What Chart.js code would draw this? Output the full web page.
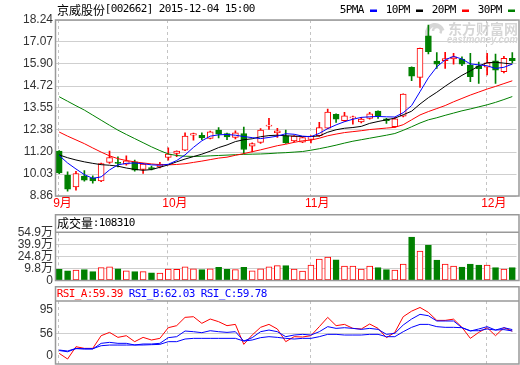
<!DOCTYPE html>
<html><head><meta charset="utf-8">
<script src="https://cdn.jsdelivr.net/npm/chart.js@4.4.0/dist/chart.umd.min.js"></script>
<style>
html,body{margin:0;padding:0;background:#fff;width:520px;height:365px;overflow:hidden;position:relative}
canvas{position:absolute;left:0}
</style></head><body>
<canvas id="main" width="520" height="214" style="top:0"></canvas>
<canvas id="vol" width="520" height="76" style="top:214px"></canvas>
<canvas id="rsi" width="520" height="92" style="top:286px"></canvas>
<script>
const stockTitle = '京威股份[002662] 2015-12-04 15:00';
const dates = ['2015-09-14','2015-09-15','2015-09-16','2015-09-17','2015-09-18','2015-09-21','2015-09-22','2015-09-23','2015-09-24','2015-09-25','2015-09-28','2015-09-29','2015-09-30',
'2015-10-08','2015-10-09','2015-10-12','2015-10-13','2015-10-14','2015-10-15','2015-10-16','2015-10-19','2015-10-20','2015-10-21','2015-10-22','2015-10-23','2015-10-26','2015-10-27','2015-10-28','2015-10-29','2015-10-30',
'2015-11-02','2015-11-03','2015-11-04','2015-11-05','2015-11-06','2015-11-09','2015-11-10','2015-11-11','2015-11-12','2015-11-13','2015-11-16','2015-11-17','2015-11-18','2015-11-19','2015-11-20','2015-11-23','2015-11-24','2015-11-25','2015-11-26','2015-11-27','2015-11-30',
'2015-12-01','2015-12-02','2015-12-03','2015-12-04'];
const open  = [11.25,9.97,9.34,9.92,9.83,9.67,10.65,10.66,10.56,10.68, 10.27,10.38,10.41,10.91,11.13,11.30,12.10,12.10,11.93,12.37, 12.19,11.98,12.19,11.52,11.71,12.58,12.23,12.07,11.80,11.73, 11.87,12.07,12.48,13.21,12.87,13.02,12.81,12.99,13.38,12.97, 12.55,13.12,15.72,15.18,17.39,16.05,16.07,16.16,16.16,15.84, 15.80,15.72,16.07,15.48,16.20];
const high  = [11.28,10.15,10.18,10.22,9.93,10.62,11.25,10.95,11.00,10.77, 10.60,10.45,10.66,11.43,11.27,12.23,12.21,12.23,12.32,12.51, 12.22,12.33,12.53,11.70,12.45,13.00,12.46,12.37,12.08,12.00, 12.08,12.78,13.49,13.24,13.32,13.12,13.05,13.32,13.40,13.00, 13.05,14.31,15.75,16.75,17.97,16.50,16.52,16.46,16.28,16.46, 16.00,16.46,16.42,16.30,16.50];
const low   = [10.05,9.12,9.17,9.65,9.55,9.62,10.59,10.41,10.50,10.18, 10.06,10.25,10.35,10.77,10.95,11.27,11.84,11.86,11.90,11.96, 11.86,11.90,11.12,11.21,11.66,12.41,11.98,11.66,11.74,11.70, 11.69,12.03,12.45,12.78,12.83,12.69,12.75,12.96,12.99,12.73, 12.52,13.08,15.00,14.65,16.43,15.66,15.66,15.89,15.80,14.95, 14.86,15.31,14.86,15.42,15.95];
const close = [10.09,9.22,10.06,9.70,9.67,10.59,10.91,10.60,10.73,10.24, 10.56,10.29,10.56,11.09,11.25,12.05,12.19,11.95,12.28,12.16, 12.01,12.23,11.34,11.66,12.37,12.62,12.33,11.69,12.05,11.98, 12.05,12.51,13.33,12.96,13.13,13.05,12.96,13.24,13.12,12.87, 12.97,14.29,15.25,16.73,16.55,15.89,16.18,16.28,15.89,15.22, 15.64,15.96,15.57,16.20,16.07];
const ma5  = [11.02,10.62,10.30,10.00,9.80,9.88,10.25,10.52,10.60,10.62, 10.58,10.52,10.50,10.55,10.75,11.05,11.45,11.80,12.05,12.12, 12.14,12.10,12.03,11.97,11.92,11.98,12.05,12.18,12.15,12.05, 12.02,12.20,12.45,12.65,12.82,12.95,13.05,13.08,13.10,13.08, 13.07,13.30,13.68,14.42,15.16,15.74,16.12,16.30,16.16,15.90, 15.85,15.80,15.66,15.72,15.89];
const ma10 = [11.05,10.90,10.78,10.68,10.60,10.53,10.50,10.45,10.35,10.28, 10.23,10.27,10.39,10.52,10.68,10.83,10.96,11.09,11.25,11.44, 11.58,11.76,11.86,11.91,12.02,12.08,12.10,12.07,12.05,12.03, 12.03,12.06,12.26,12.39,12.47,12.51,12.57,12.73,12.83,12.92, 13.01,13.19,13.38,13.76,14.10,14.39,14.71,15.01,15.29,15.53, 15.79,15.96,15.99,15.94,15.89];
const ma20 = [12.27,12.05,11.85,11.65,11.42,11.20,11.00,10.85,10.75,10.68, 10.62,10.57,10.53,10.52,10.54,10.58,10.65,10.72,10.80,10.88, 10.93,11.03,11.12,11.22,11.32,11.43,11.54,11.62,11.72,11.80, 11.84,11.94,12.07,12.16,12.24,12.29,12.34,12.40,12.44,12.48, 12.52,12.66,12.92,13.18,13.36,13.52,13.68,13.88,14.06,14.24, 14.40,14.56,14.70,14.85,15.00];
const ma30 = [14.15,13.91,13.67,13.44,13.17,12.90,12.63,12.37,12.14,11.92, 11.70,11.48,11.28,11.10,11.02,10.98,10.97,10.98,11.00,11.02, 11.04,11.06,11.08,11.09,11.10,11.12,11.15,11.17,11.20,11.23, 11.30,11.38,11.47,11.57,11.68,11.78,11.86,11.94,12.02,12.10, 12.19,12.36,12.55,12.75,12.92,13.03,13.16,13.28,13.40,13.50, 13.61,13.72,13.85,14.00,14.16];
const volume = [8.8,7.0,7.9,8.3,5.8,10.8,12.0,9.5,7.0,5.8, 5.8,4.5,4.1,9.1,8.8,12.0,9.5,8.3,9.5,11.3, 8.8,8.3,11.3,7.0,9.5,12.0,13.3,13.3,9.1,6.6, 14.1,21.6,24.1,20.7,12.9,12.9,9.1,12.9,10.8,8.3, 7.9,15.4,49.0,31.6,39.1,20.4,15.4,12.9,11.6,15.4, 14.1,14.1,10.8,9.1,10.83];
const lastVolume = 108310;
const rsiA = [23.4,14.2,34.2,31.5,31.5,52.1,57.5,49.4,52.1,42.4, 49.4,45.1,47.8,65.1,68.4,81.9,83.0,72.2,79.2,74.9, 68.4,70.5,38.0,53.2,65.7,70.5,63.0,42.4,50.5,50.0, 52.1,66.8,81.9,68.4,70.5,64.0,63.0,71.1,64.0,48.9, 57.5,83.0,92.0,98.0,90.0,77.0,77.0,79.0,65.7,47.8, 57.5,65.1,52.1,65.1,59.39];
const rsiB = [28.8,27.2,31.5,30.4,30.4,39.7,41.3,39.7,39.7,37.0, 38.6,38.6,39.7,48.9,50.5,59.7,58.6,57.0,60.2,58.6, 57.5,58.6,43.4,48.9,58.6,61.3,58.6,50.5,53.2,54.3, 53.2,58.6,66.8,64.0,65.1,64.0,62.4,64.0,62.4,54.3, 55.9,69.5,79.2,86.8,84.6,76.0,76.0,76.0,65.1,59.7, 63.0,66.8,61.3,65.1,62.03];
const rsiC = [28.0,26.0,31.0,31.0,31.0,35.8,36.9,36.9,36.9,37.0, 37.0,37.5,38.0,42.4,42.4,46.7,47.8,47.8,47.8,47.8, 47.8,47.8,43.4,45.1,48.9,50.5,49.4,47.8,46.7,47.8, 47.8,50.5,54.3,54.3,53.2,53.2,53.2,54.3,54.3,50.5, 50.5,58.6,65.7,70.5,70.5,66.8,65.7,65.7,65.1,60.2, 60.2,63.0,61.3,62.0,59.78];
const priceTicks = [8.86,10.03,11.20,12.38,13.55,14.72,15.90,17.07,18.24];
const volTicks = [-5.2,9.8,24.8,39.9,54.9];
const volTickLabels = ['0','9.8万','24.8万','39.9万','54.9万'];
const rsiTicks = [19.9,56,95];
const rsiTickLabels = ['0','56','95'];
const maNames = ['5PMA','10PM','20PM','30PM'];

const UP='#ff0000', DOWN='#008000';
const maColors = ['#0000ff','#000000','#ff0000','#008000'];
const FONT = "'Liberation Sans','Noto Sans CJK SC',sans-serif";
const FRAME_RIGHT = 519, FRAME_COLOR = '#999999', GRID='#cfcfcf';
const isUp = close.map((c,i)=>c>=open[i]);
const monthStarts = [];
dates.forEach((d,i)=>{ if(i===0 || d.slice(5,7)!==dates[i-1].slice(5,7)) monthStarts.push({i, label: parseInt(d.slice(5,7))+'月'}); });

function drawMono(ctx, text, x, y, color){
  ctx.save(); ctx.fillStyle=color; ctx.textBaseline='middle'; ctx.textAlign='center';
  let cx=x;
  for(const ch of text){
    const wide = ch.charCodeAt(0) > 0x2e80;
    const w = wide?12:6;
    ctx.font = wide ? "12px 'Noto Sans CJK SC'" : "11px 'DejaVu Sans Mono'";
    if(ch!==' ') ctx.fillText(ch, cx+w/2, y+ (wide?0.5:0));
    cx+=w;
  }
  ctx.restore();
  return cx;
}
function dashedMonths(chart){
  const {ctx, chartArea:a, scales:{x}} = chart;
  ctx.save(); ctx.strokeStyle='#c4c4c4'; ctx.lineWidth=1; ctx.setLineDash([3,3]);
  monthStarts.forEach(m=>{
    const px = Math.round(x.getPixelForValue(m.i))-0.5;
    ctx.beginPath(); ctx.moveTo(px,a.top); ctx.lineTo(px,a.bottom); ctx.stroke();
  });
  ctx.restore();
}
function frame(ctx, top, sep, bottom, left){
  ctx.save(); ctx.strokeStyle=FRAME_COLOR; ctx.lineWidth=1.5;
  ctx.strokeRect(left+0.5, top, FRAME_RIGHT-left-0.5, bottom-top);
  if(sep!==null){ ctx.beginPath(); ctx.moveTo(left+0.5,sep); ctx.lineTo(FRAME_RIGHT,sep); ctx.stroke(); }
  ctx.restore();
}
const yAxisBase = {
  afterFit(s){ s.width = 55; },
  grid:{color:GRID, drawTicks:false, lineWidth:1},
  border:{display:false},
};
const tickFont = {family:FONT, size:12};

// ---------- main chart ----------
const mainDeco = {
  id:'mainDeco',
  beforeDatasetsDraw(chart){
    const {ctx} = chart;
    ctx.save();
    ctx.fillStyle='#d6d6d6'; ctx.strokeStyle='#d6d6d6';
    ctx.textBaseline='middle'; ctx.textAlign='left';
    ctx.font="bold 14px 'Noto Sans CJK SC'";
    ctx.fillText('东方财富网', 448, 28.5, 70);
    ctx.font="bold italic 10px 'Liberation Sans'";
    ctx.fillText('eastmoney.com', 447, 40.5, 71);
    ctx.lineWidth=4;
    ctx.beginPath(); ctx.arc(435, 33, 8, Math.PI*0.7, Math.PI*1.9); ctx.stroke();
    ctx.lineWidth=2.5;
    ctx.beginPath(); ctx.arc(437, 31, 4, Math.PI*1.0, Math.PI*2.2); ctx.stroke();
    ctx.restore();
    dashedMonths(chart);
  },
  afterDraw(chart){
    const {ctx, chartArea:a, scales:{x}} = chart;
    frame(ctx, a.top, null, a.bottom, a.left);
    drawMono(ctx, stockTitle, 57, 9.5, '#000');
    maNames.forEach((n,k)=>{
      const tx = 340 + 46*k;
      drawMono(ctx, n, tx, 10.5, '#000');
      ctx.fillStyle = maColors[k];
      ctx.fillRect(tx+30, 9.5, 7, 2.5);
    });
    ctx.save(); ctx.fillStyle='#ff0000'; ctx.font='12px '+FONT; ctx.textAlign='left'; ctx.textBaseline='middle';
    monthStarts.forEach(m=>{ ctx.fillText(m.label, x.getPixelForValue(m.i)-6, 204); });
    ctx.restore();
  }
};
new Chart(document.getElementById('main'), {
  type:'bar',
  data:{
    labels: dates,
    datasets:[
      ...[ma5,ma10,ma20,ma30].map((d,k)=>({type:'line', label:maNames[k], data:d, borderColor:maColors[k], borderWidth:1, pointRadius:0, tension:0, order:1})),
      {type:'bar', label:'body', data: dates.map((d,i)=>[open[i],close[i]]),
        backgroundColor: isUp.map(u=>u?'#ffffff':DOWN), borderColor: isUp.map(u=>u?UP:DOWN),
        borderWidth:1, borderSkipped:false, barThickness:6, grouped:false, minBarLength:1, order:2},
      {type:'bar', label:'wick', data: dates.map((d,i)=>[low[i],high[i]]),
        backgroundColor: isUp.map(u=>u?UP:DOWN), borderWidth:0, barThickness:1, grouped:false, order:3}
    ]
  },
  options:{
    responsive:false, animation:false, events:[],
    layout:{autoPadding:false, padding:{top:20,right:3.5,bottom:18,left:0}},
    plugins:{legend:{display:false}, tooltip:{enabled:false}},
    scales:{
      x:{display:false, offset:true},
      y:{...yAxisBase, min:8.86, max:18.24,
        afterBuildTicks(s){ s.ticks = priceTicks.map(v=>({value:v})); },
        ticks:{autoSkip:false, font:tickFont, color:'#333', padding:2, callback:(v,i)=>priceTicks[i].toFixed(2)}}
    }
  },
  plugins:[mainDeco]
});

// ---------- volume chart ----------
const volDeco = {
  id:'volDeco',
  beforeDatasetsDraw(chart){ dashedMonths(chart); },
  afterDraw(chart){
    const {ctx, chartArea:a} = chart;
    frame(ctx, 0.75, a.top, a.bottom, a.left);
    drawMono(ctx, '成交量:'+lastVolume, 57, 9, '#000');
  }
};
new Chart(document.getElementById('vol'), {
  type:'bar',
  data:{ labels:dates, datasets:[{ data:volume, base:volTicks[0],
    backgroundColor: isUp.map(u=>u?'#ffffff':DOWN), borderColor: isUp.map(u=>u?UP:DOWN),
    borderWidth:1, borderSkipped:false, barThickness:6 }]},
  options:{
    responsive:false, animation:false, events:[],
    layout:{autoPadding:false, padding:{top:18.3,right:3.5,bottom:9.5,left:0}},
    plugins:{legend:{display:false}, tooltip:{enabled:false}},
    scales:{
      x:{display:false, offset:true},
      y:{...yAxisBase, min:volTicks[0], max:volTicks[volTicks.length-1],
        afterBuildTicks(s){ s.ticks = volTicks.map(v=>({value:v})); },
        ticks:{autoSkip:false, font:tickFont, color:'#333', padding:2, callback:(v,i)=>volTickLabels[i]}}
    }
  },
  plugins:[volDeco]
});

// ---------- RSI chart ----------
const rsiDeco = {
  id:'rsiDeco',
  beforeDatasetsDraw(chart){ dashedMonths(chart); },
  afterDraw(chart){
    const {ctx, chartArea:a} = chart;
    frame(ctx, 0.75, a.top, a.bottom, a.left);
    drawMono(ctx, 'RSI_A:'+rsiA[rsiA.length-1].toFixed(2), 57, 8.5, '#ff0000');
    drawMono(ctx, 'RSI_B:'+rsiB[rsiB.length-1].toFixed(2), 129, 8.5, '#0000ff');
    drawMono(ctx, 'RSI_C:'+rsiC[rsiC.length-1].toFixed(2), 201, 8.5, '#0000ff');
  }
};
new Chart(document.getElementById('rsi'), {
  type:'line',
  data:{ labels:dates, datasets:[
    {data:rsiC, borderColor:'#0000ff', borderWidth:1, pointRadius:0, tension:0},
    {data:rsiB, borderColor:'#0000ff', borderWidth:1, pointRadius:0, tension:0},
    {data:rsiA, borderColor:'#ff0000', borderWidth:1, pointRadius:0, tension:0}
  ]},
  options:{
    responsive:false, animation:false, events:[],
    layout:{autoPadding:false, padding:{top:15,right:3.5,bottom:14,left:0}},
    plugins:{legend:{display:false}, tooltip:{enabled:false}},
    scales:{
      x:{display:false, offset:true},
      y:{...yAxisBase, min:6.1, max:108.5,
        grid:{drawTicks:false, lineWidth:1, color:(c)=> (c.tick && c.tick.value===56) ? GRID : 'rgba(0,0,0,0)'},
        afterBuildTicks(s){ s.ticks = rsiTicks.map(v=>({value:v})); },
        ticks:{autoSkip:false, font:tickFont, color:'#333', padding:2, callback:(v,i)=>rsiTickLabels[i]}}
    }
  },
  plugins:[rsiDeco]
});
</script>
</body></html>
